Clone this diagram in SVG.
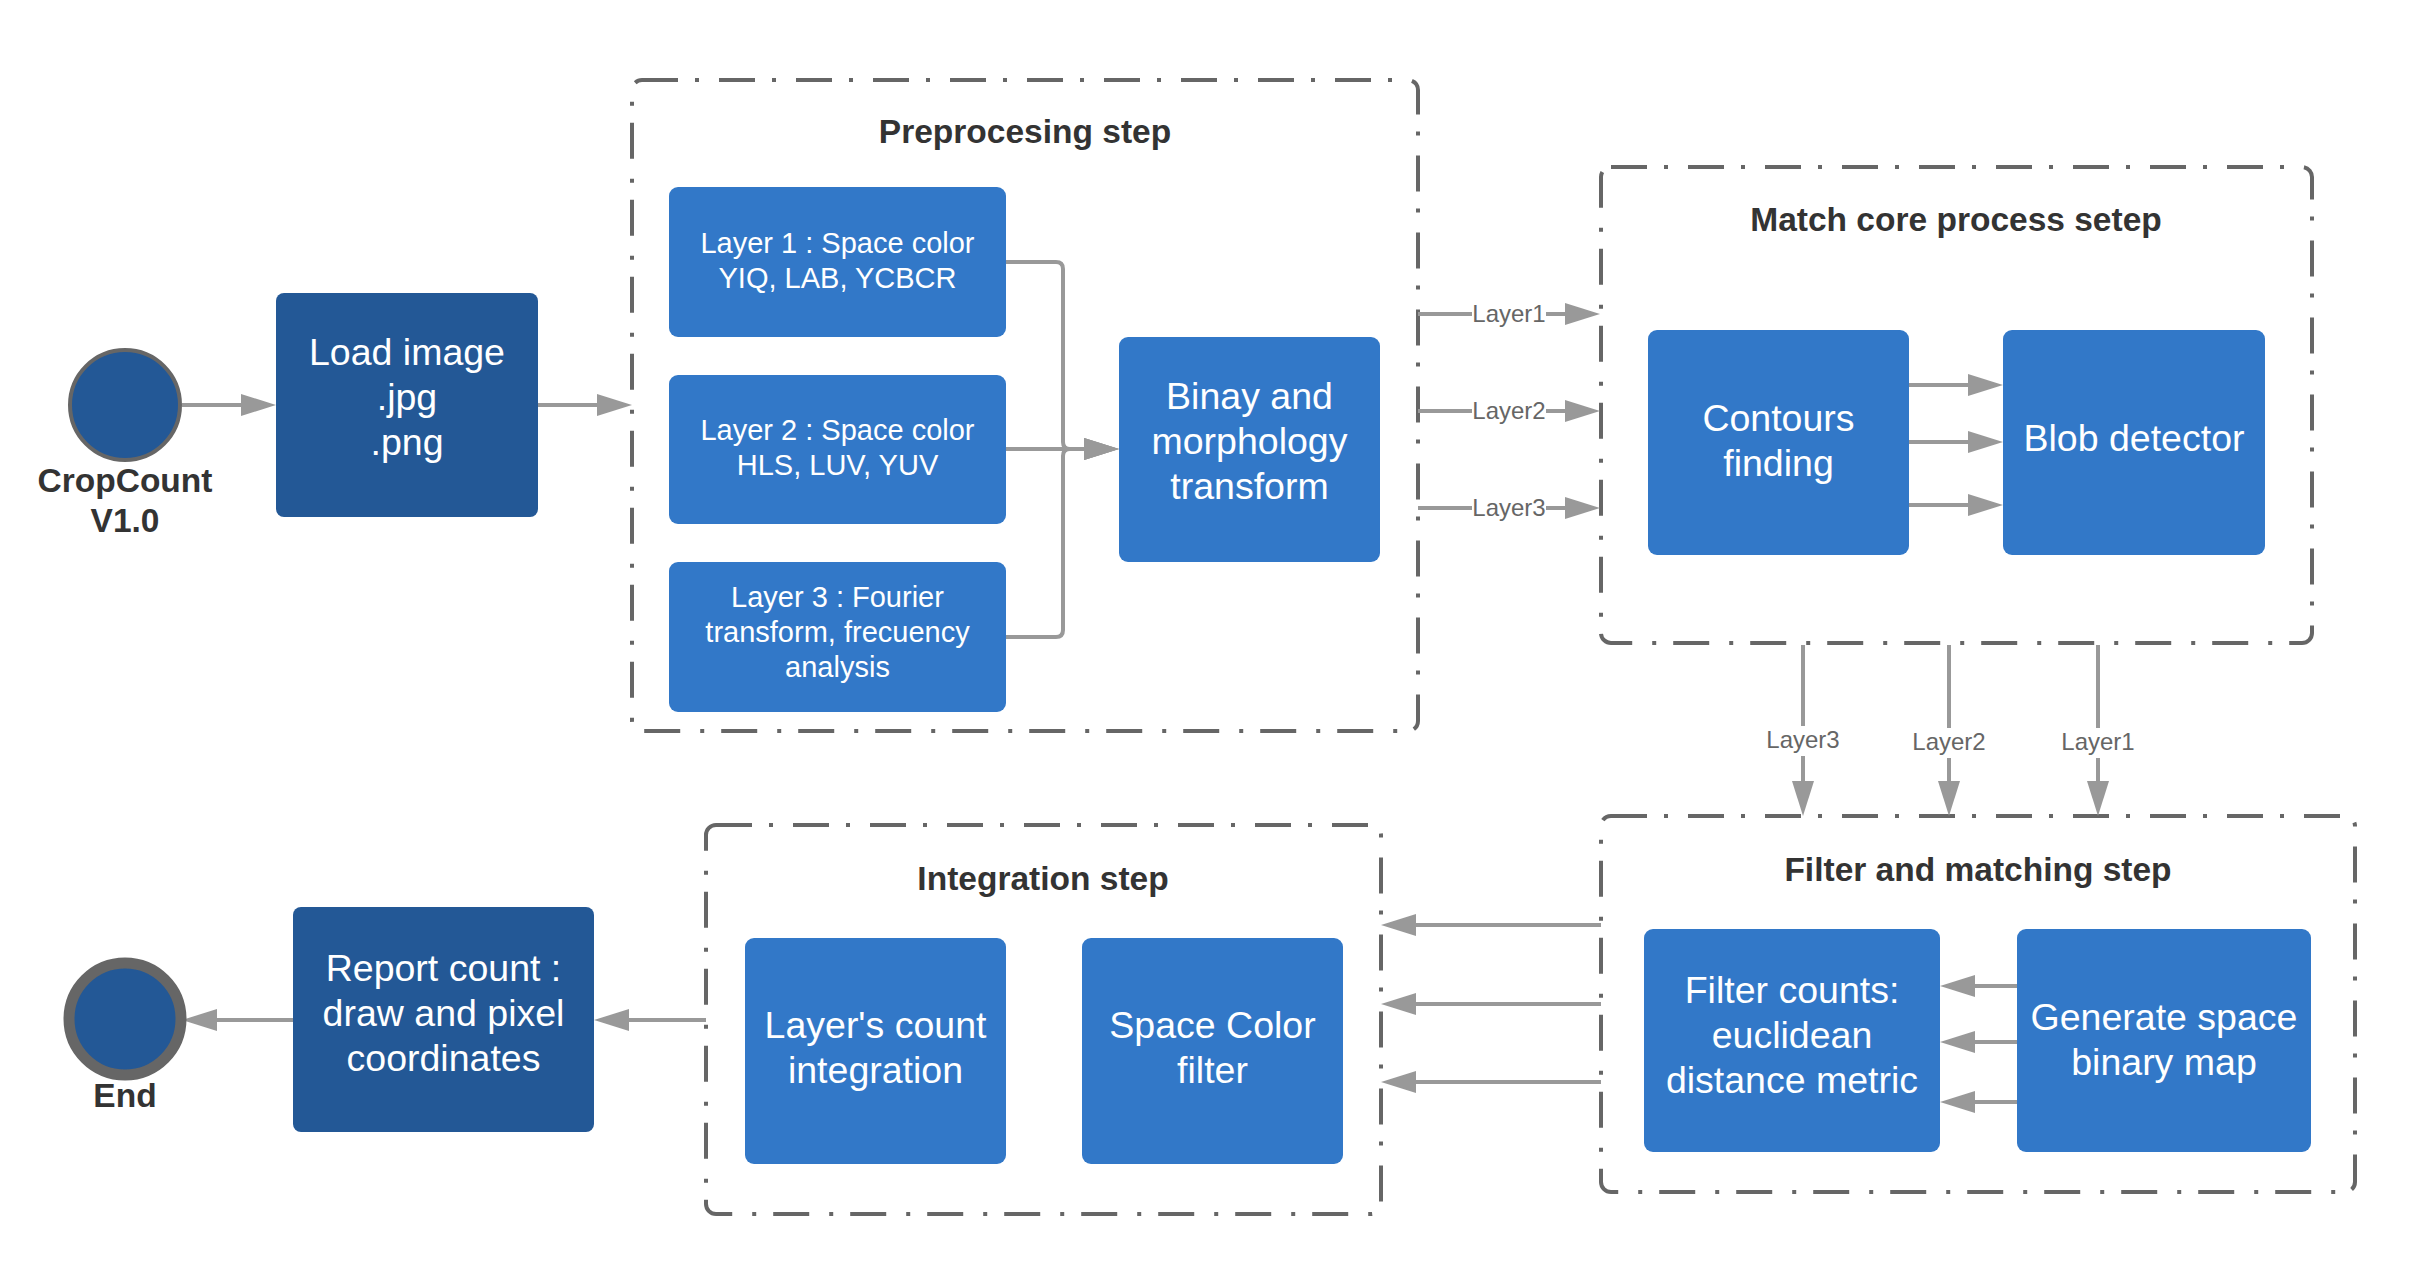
<svg xmlns="http://www.w3.org/2000/svg" width="2421" height="1275" viewBox="0 0 2421 1275">
<defs>
<style>
.grp{fill:none;stroke:#666;stroke-width:4;stroke-dasharray:36 17 4 20;}
.node{fill:#3278c8;}
.dark{fill:#235896;}
.ntxt{font-family:"Liberation Sans",Arial,sans-serif;font-size:37.5px;fill:#fff;text-anchor:middle;}
.stxt{font-family:"Liberation Sans",Arial,sans-serif;font-size:29px;fill:#fff;text-anchor:middle;}
.title{font-family:"Liberation Sans",Arial,sans-serif;font-size:33.5px;font-weight:bold;fill:#333;text-anchor:middle;}
.lbl{font-family:"Liberation Sans",Arial,sans-serif;font-size:33.5px;font-weight:bold;fill:#333;text-anchor:middle;}
.conn{fill:none;stroke:#999;stroke-width:4;marker-end:url(#ah);}
.clbl{font-family:"Liberation Sans",Arial,sans-serif;font-size:24px;fill:#666;text-anchor:middle;}
.lbg{fill:#fff;}
</style>
<marker id="ah" viewBox="0 0 35 22" refX="25" refY="11" markerWidth="35" markerHeight="22" markerUnits="userSpaceOnUse" orient="auto">
<path d="M0,0 L35,11 L0,22 z" fill="#999"/>
</marker>
</defs>
<rect width="2421" height="1275" fill="#fff"/>

<g id="group-preprocessing">
<rect class="grp" x="632" y="80" width="786" height="651" rx="10"/>
<text class="title" x="1025" y="143">Preprocesing step</text>
</g>
<g id="group-match">
<rect class="grp" x="1601" y="167" width="711" height="476" rx="10"/>
<text class="title" x="1956" y="231">Match core process setep</text>
</g>
<g id="group-integration">
<rect class="grp" x="706" y="825" width="675" height="389" rx="10"/>
<text class="title" x="1043" y="890">Integration step</text>
</g>
<g id="group-filter">
<rect class="grp" x="1601" y="816" width="754" height="376" rx="10"/>
<text class="title" x="1978" y="881">Filter and matching step</text>
</g>

<g id="connectors">
<path class="conn" d="M182,405 H266"/>
<path class="conn" d="M538,405 H622"/>
<path class="conn" d="M1006,262 H1056 Q1063,262 1063,269 V442 Q1063,449 1070,449 H1109"/>
<path class="conn" d="M1006,449 H1109"/>
<path class="conn" d="M1006,637 H1056 Q1063,637 1063,630 V456 Q1063,449 1070,449 H1109"/>
<path class="conn" d="M1418,314 H1590"/>
<path class="conn" d="M1418,411 H1590"/>
<path class="conn" d="M1418,508 H1590"/>
<rect class="lbg" x="1472" y="298" width="74" height="30"/>
<text class="clbl" x="1509" y="322">Layer1</text>
<rect class="lbg" x="1472" y="395" width="74" height="30"/>
<text class="clbl" x="1509" y="419">Layer2</text>
<rect class="lbg" x="1472" y="492" width="74" height="30"/>
<text class="clbl" x="1509" y="516">Layer3</text>
<path class="conn" d="M1909,385 H1993"/>
<path class="conn" d="M1909,442 H1993"/>
<path class="conn" d="M1909,505 H1993"/>
<path class="conn" d="M1803,645 V806"/>
<path class="conn" d="M1949,645 V806"/>
<path class="conn" d="M2098,645 V806"/>
<rect class="lbg" x="1765" y="726" width="76" height="30"/>
<text class="clbl" x="1803" y="748">Layer3</text>
<rect class="lbg" x="1911" y="728" width="76" height="30"/>
<text class="clbl" x="1949" y="750">Layer2</text>
<rect class="lbg" x="2060" y="728" width="76" height="30"/>
<text class="clbl" x="2098" y="750">Layer1</text>
<path class="conn" d="M1601,925 H1391"/>
<path class="conn" d="M1601,1004 H1391"/>
<path class="conn" d="M1601,1082 H1391"/>
<path class="conn" d="M2017,986 H1950"/>
<path class="conn" d="M2017,1042 H1950"/>
<path class="conn" d="M2017,1102 H1950"/>
<path class="conn" d="M706,1020 H604"/>
<path class="conn" d="M293,1020 H192"/>
</g>

<g id="start">
<circle cx="125" cy="405" r="55" fill="#235896" stroke="#666" stroke-width="4"/>
<text class="lbl" x="125" y="492">CropCount</text>
<text class="lbl" x="125" y="532">V1.0</text>
</g>
<g id="load-image">
<rect class="dark" x="276" y="293" width="262" height="224" rx="8"/>
<text class="ntxt" x="407" y="365">Load image</text>
<text class="ntxt" x="407" y="410">.jpg</text>
<text class="ntxt" x="407" y="455">.png</text>
</g>
<g id="layer1">
<rect class="node" x="669" y="187" width="337" height="150" rx="9"/>
<text class="stxt" x="837.5" y="253">Layer 1 : Space color</text>
<text class="stxt" x="837.5" y="288">YIQ, LAB, YCBCR</text>
</g>
<g id="layer2">
<rect class="node" x="669" y="375" width="337" height="149" rx="9"/>
<text class="stxt" x="837.5" y="440">Layer 2 : Space color</text>
<text class="stxt" x="837.5" y="475">HLS, LUV, YUV</text>
</g>
<g id="layer3">
<rect class="node" x="669" y="562" width="337" height="150" rx="9"/>
<text class="stxt" x="837.5" y="607">Layer 3 : Fourier</text>
<text class="stxt" x="837.5" y="642">transform, frecuency</text>
<text class="stxt" x="837.5" y="677">analysis</text>
</g>
<g id="binay">
<rect class="node" x="1119" y="337" width="261" height="225" rx="9"/>
<text class="ntxt" x="1249.5" y="409">Binay and</text>
<text class="ntxt" x="1249.5" y="454">morphology</text>
<text class="ntxt" x="1249.5" y="499">transform</text>
</g>
<g id="contours">
<rect class="node" x="1648" y="330" width="261" height="225" rx="9"/>
<text class="ntxt" x="1778.5" y="431">Contours</text>
<text class="ntxt" x="1778.5" y="476">finding</text>
</g>
<g id="blob">
<rect class="node" x="2003" y="330" width="262" height="225" rx="9"/>
<text class="ntxt" x="2134" y="451">Blob detector</text>
</g>
<g id="filter-counts">
<rect class="node" x="1644" y="929" width="296" height="223" rx="9"/>
<text class="ntxt" x="1792" y="1003">Filter counts:</text>
<text class="ntxt" x="1792" y="1048">euclidean</text>
<text class="ntxt" x="1792" y="1093">distance metric</text>
</g>
<g id="generate">
<rect class="node" x="2017" y="929" width="294" height="223" rx="9"/>
<text class="ntxt" x="2164" y="1030">Generate space</text>
<text class="ntxt" x="2164" y="1075">binary map</text>
</g>
<g id="layers-count">
<rect class="node" x="745" y="938" width="261" height="226" rx="9"/>
<text class="ntxt" x="875.5" y="1038">Layer's count</text>
<text class="ntxt" x="875.5" y="1083">integration</text>
</g>
<g id="space-color-filter">
<rect class="node" x="1082" y="938" width="261" height="226" rx="9"/>
<text class="ntxt" x="1212.5" y="1038">Space Color</text>
<text class="ntxt" x="1212.5" y="1083">filter</text>
</g>
<g id="report">
<rect class="dark" x="293" y="907" width="301" height="225" rx="8"/>
<text class="ntxt" x="443.5" y="981">Report count :</text>
<text class="ntxt" x="443.5" y="1026">draw and pixel</text>
<text class="ntxt" x="443.5" y="1071">coordinates</text>
</g>
<g id="end">
<circle cx="125" cy="1019" r="56" fill="#235896" stroke="#666" stroke-width="11"/>
<text class="lbl" x="125" y="1107">End</text>
</g>
</svg>
